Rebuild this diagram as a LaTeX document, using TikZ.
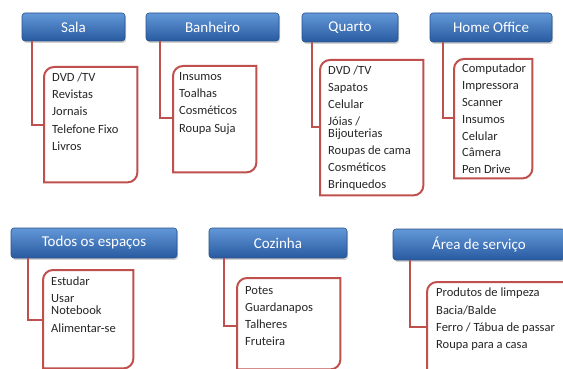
\documentclass[tikz,border=0pt]{standalone}
\usepackage{fontspec}
\setmainfont{Carlito}
\usetikzlibrary{shadows,calc}
\definecolor{boxred}{RGB}{192,80,77}
\definecolor{headtop}{RGB}{98,152,216}
\definecolor{headbot}{RGB}{40,90,160}
\definecolor{headdraw}{RGB}{42,82,138}
\tikzset{
 head/.style={rectangle, rounded corners=3pt, top color=headtop, bottom color=headbot,
   draw=headdraw, line width=0.6pt, text=white, font=\fontsize{15}{18}\selectfont,
   drop shadow={shadow xshift=1.2pt, shadow yshift=-1.8pt, opacity=0.35}, inner sep=0pt},
 boxarea/.style={rectangle, draw=none, inner sep=0pt, anchor=north west},
 itemtext/.style={anchor=base west, inner sep=0pt, font=\fontsize{12.5}{13}\selectfont, text=black!85},
 redline/.style={draw=boxred, line width=2pt},
}
\newcommand\redbox[1]{\draw[redline, fill=white] (#1.south west) -- ($(#1.north west)+(0,-10)$)
  arc[start angle=180,end angle=90,radius=10pt] -- (#1.north east) -- ($(#1.south east)+(0,10)$)
  arc[start angle=0,end angle=-90,radius=10pt] -- cycle;}
\begin{document}
\begin{tikzpicture}[x=1pt,y=1pt]
\useasboundingbox (0,0) rectangle (563,-369);
\clip (0,0) rectangle (563,-369);
\fill[white] (0,0) rectangle (563,-369);

% headers
\node[head, minimum width=103pt, minimum height=28pt] (sala) at (73.5,-27) {Sala};
\node[head, minimum width=133pt, minimum height=28pt] (banh) at (212.5,-27) {Banheiro};
\node[head, minimum width=96pt, minimum height=29pt] (quar) at (350,-27.5) {Quarto};
\node[head, minimum width=122pt, minimum height=29pt] (home) at (491,-27.5) {Home Office};
\node[head, minimum width=166pt, minimum height=30pt] (todo) at (94,-243) {Todos os espaços};
\node[head, minimum width=138pt, minimum height=30pt] (cozi) at (278,-243) {Cozinha};
\node[head, minimum width=172pt, minimum height=31pt] (area) at (479,-244.5) {Área de serviço};

% box areas
\node[boxarea, minimum width=93pt, minimum height=115pt] (salab) at (44,-67) {};
\node[boxarea, minimum width=83pt, minimum height=106pt] (banhb) at (173,-66) {};
\node[boxarea, minimum width=103pt, minimum height=135pt] (quarb) at (320,-60) {};
\node[boxarea, minimum width=78pt, minimum height=119pt] (homeb) at (454,-59) {};
\node[boxarea, minimum width=90pt, minimum height=98pt] (todob) at (43,-270) {};
\node[boxarea, minimum width=103pt, minimum height=91pt] (cozib) at (237,-278) {};
\node[boxarea, minimum width=160pt, minimum height=100pt] (areab) at (427,-282) {};

% connector bends
\coordinate (salac) at (32,-125);
\coordinate (banhc) at (160,-118);
\coordinate (quarc) at (312,-127);
\coordinate (homec) at (443,-118);
\coordinate (todoc) at (28,-320);
\coordinate (cozic) at (224,-326);
\coordinate (areac) at (410,-327);
\foreach \h in {sala,banh,quar,home,todo,cozi,area}{
  \draw[redline] (\h.south -| \h c) |- (\h b.west |- \h c);
}

\redbox{salab}
\redbox{banhb}
\redbox{quarb}
\redbox{homeb}
\redbox{todob}
\redbox{cozib}
\redbox{areab}

% items
\foreach \t [count=\i from 0] in {DVD /TV, Revistas, Jornais, Telefone Fixo, Livros}
  \node[itemtext] (salai\i) at (52,{-82-17*\i}) {\t};
\foreach \t [count=\i from 0] in {Insumos, Toalhas, Cosméticos, Roupa Suja}
  \node[itemtext] (banhi\i) at (179,{-81-17*\i}) {\t};
\node[itemtext] (quari0) at (328,-75) {DVD /TV};
\node[itemtext] (quari1) at (328,-92) {Sapatos};
\node[itemtext] (quari2) at (328,-108.5) {Celular};
\node[itemtext] (quari3) at (328,-125) {Jóias /};
\node[itemtext] (quari4) at (328,-138) {Bijouterias};
\node[itemtext] (quari5) at (328,-154.5) {Roupas de cama};
\node[itemtext] (quari6) at (328,-171.5) {Cosméticos};
\node[itemtext] (quari7) at (328,-188.5) {Brinquedos};
\foreach \t [count=\i from 0] in {Computador, Impressora, Scanner, Insumos, Celular, Câmera, Pen Drive}
  \node[itemtext] (homei\i) at (462,{-73-16.8*\i}) {\t};
\node[itemtext] (todoi0) at (51,-285) {Estudar};
\node[itemtext] (todoi1) at (51,-302.3) {Usar};
\node[itemtext] (todoi2) at (51,-314.7) {Notebook};
\node[itemtext] (todoi3) at (51,-332.3) {Alimentar-se};
\foreach \t [count=\i from 0] in {Potes, Guardanapos, Talheres, Fruteira}
  \node[itemtext] (cozii\i) at (245,{-294-17.2*\i}) {\t};
\foreach \t [count=\i from 0] in {Produtos de limpeza, Bacia/Balde, Ferro / Tábua de passar, Roupa para a casa}
  \node[itemtext] (areai\i) at (436,{-296.7-17.4*\i}) {\t};
\end{tikzpicture}
\end{document}
